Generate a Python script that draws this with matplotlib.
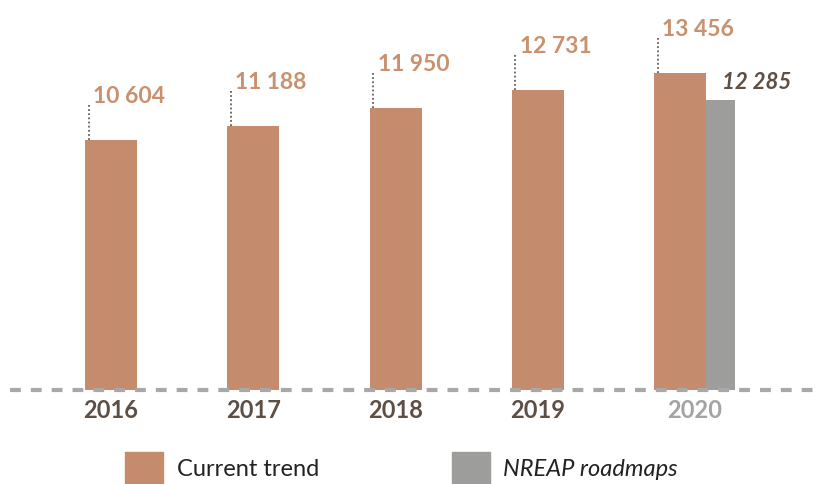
import matplotlib
matplotlib.use("Agg")
import matplotlib.pyplot as plt
from matplotlib.patches import Rectangle

years = ["2016", "2017", "2018", "2019", "2020"]
current_trend = [10604, 11188, 11950, 12731, 13456]
nreap_2020 = 12285
value_labels = ["10 604", "11 188", "11 950", "12 731", "13 456"]
nreap_label = "12 285"

ORANGE = "#C48C6C"
LABEL_ORANGE = "#C9916D"
GRAY = "#9D9D9B"
DARK = "#5E4F44"
LIGHT_GRAY_TXT = "#A3A3A3"
FONT = "Lato"

W, H = 822, 484
fig = plt.figure(figsize=(W / 100, H / 100), dpi=100)
ax_bottom = 94 / H
ax = fig.add_axes([0, ax_bottom, 1, 1 - ax_bottom])
ax.set_axis_off()

px_per_unit = 142.3
x0_px = 111
xlim = (-x0_px / px_per_unit, (W - x0_px) / px_per_unit)
ax.set_xlim(*xlim)
ymax = 16546
ax.set_ylim(0, ymax)
ax_h_px = H * (1 - ax_bottom)
data_per_px = ymax / ax_h_px

bw = 0.365
gw = 0.2
xs = list(range(len(years)))
ax.bar(xs, current_trend, width=bw, color=ORANGE, zorder=2)
gx = xs[-1] + bw / 2 + gw / 2
ax.bar([gx], [nreap_2020], width=gw, color=GRAY, zorder=2)

# dashed baseline
ax.plot([10 / px_per_unit + xlim[0], xlim[1]], [0, 0], color="#A8A8A8", lw=3,
        dashes=(2.6, 2.4), zorder=3, clip_on=False, solid_capstyle="butt")

# value labels with dotted leaders
lead = 37 * data_per_px
for x, v, lab in zip(xs, current_trend, value_labels):
    left = x - bw / 2
    lx = left + 3.5 / px_per_unit
    ax.plot([lx, lx], [v, v + lead], color="#6A5E56", lw=1.3, ls=(0, (1, 1.3)), zorder=3)
    ax.annotate(lab, xy=(left, v + lead), xytext=(8, 0), textcoords="offset pixels",
                ha="left", va="baseline", fontsize=16.5, color=LABEL_ORANGE,
                fontfamily=FONT, fontweight="bold")

ax.annotate(nreap_label, xy=(gx - gw / 2, nreap_2020), xytext=(16, 11),
            textcoords="offset pixels", ha="left", va="baseline", fontsize=16,
            color=DARK, fontfamily=FONT, fontweight="bold", fontstyle="italic")

# year labels
for i, y in enumerate(years):
    if i == len(years) - 1:
        cx = xs[i] + gw / 2
        col = LIGHT_GRAY_TXT
    else:
        cx = xs[i]
        col = DARK
    ax.annotate(y, xy=(cx, 0), xytext=(0, -21), textcoords="offset pixels",
                ha="center", va="center", fontsize=17, color=col,
                fontfamily=FONT, fontweight="bold")

# legend
def fig_rect(x, y, w, h, color):
    fig.patches.append(Rectangle((x / W, 1 - (y + h) / H), w / W, h / H,
                                 transform=fig.transFigure, color=color, figure=fig))

fig_rect(125, 452, 38, 32, ORANGE)
fig_rect(452, 452, 38, 32, GRAY)
fig.text(177 / W, 1 - 470 / H, "Current trend", ha="left", va="center",
         fontsize=17, color="#222222", fontfamily=FONT)
fig.text(503 / W, 1 - 470 / H, "NREAP roadmaps", ha="left", va="center",
         fontsize=17, color="#222222", fontfamily=FONT, fontstyle="italic")

fig.savefig("out.png", dpi=100)
